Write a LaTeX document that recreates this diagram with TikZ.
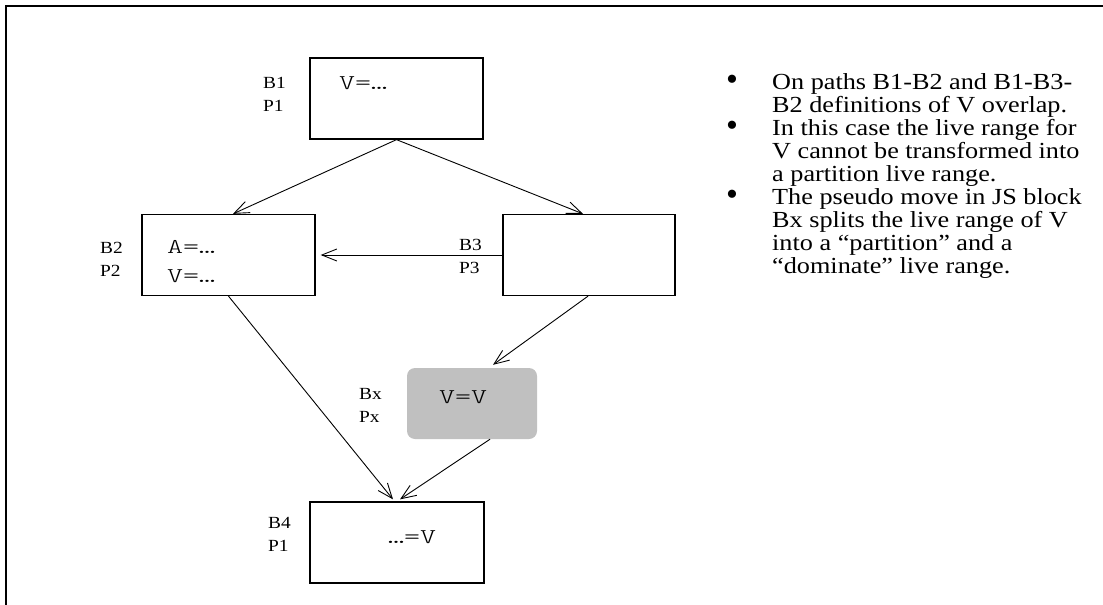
\documentclass[tikz,border=0pt]{standalone}
\usepackage{fontspec}
\setmainfont{Liberation Serif}[FakeStretch=1.14]
\newfontfamily\dotfont{Liberation Serif}
\newfontfamily\codefont{lmmonolt10-regular}[Extension=.otf, FakeStretch=1.45]
\usetikzlibrary{arrows.meta}
\definecolor{jsgray}{HTML}{C0C0C0}

\tikzset{
  block/.style={draw, line width=1.3pt, minimum height=81pt, inner sep=0pt},
  jsblock/.style={fill=jsgray, rounded corners=8pt, minimum width=130pt, minimum height=71pt, inner sep=0pt},
  code/.style={font=\codefont\fontsize{21}{28}\selectfont, inner sep=0pt, anchor=base west},
  tag/.style={font=\fontsize{17}{23}\selectfont, align=left, inner sep=0pt, anchor=base west},
  note/.style={font=\fontsize{23}{23}\selectfont, align=left, inner sep=0pt, anchor=base west},
  dot/.style={font=\dotfont\fontsize{34}{34}\selectfont, inner sep=0pt, anchor=center},
  flow/.style={line width=0.9pt, -{Straight Barb[length=15pt, width=12pt, line width=0.9pt]}}
}

\begin{document}
\begin{tikzpicture}[x=1pt, y=-1pt]
  \useasboundingbox (0,0) rectangle (1103,605);

  % open frame: top and left edges only
  \draw[line width=2pt] (6,605) -- (6,6) -- (1103,6);

  % basic blocks
  \node[block, minimum width=173pt] (b1) at (396.5,98.5) {};
  \node[block, minimum width=173pt] (b2) at (228.5,255) {};
  \node[block, minimum width=172pt] (b3) at (589,255) {};
  \node[jsblock] (bx) at (472,403.5) {};
  \node[block, minimum width=174pt] (b4) at (397,542.5) {};

  % block contents
  \node[code] (c1) at (339,89) {V=…};
  \node[code] (c2a) at (167,253) {A=…};
  \node[code] (c2b) at (167,282) {V=…};
  \node[code] (cx) at (439,403) {V=V};
  \node[code] (c4) at (388,543) {…=V};

  % block / partition tags (anchored on the second line)
  \node[tag] (t1) at (263,111) {B1\\P1};
  \node[tag] (t2) at (100,276) {B2\\P2};
  \node[tag] (t3) at (459,273) {B3\\P3};
  \node[tag] (tx) at (359,422) {Bx\\Px};
  \node[tag] (t4) at (268,551) {B4\\P1};

  % control flow edges
  \draw[flow] (b1.south) -- ([xshift=4.5pt]b2.north);
  \draw[flow] (b1.south) -- ([xshift=-6pt]b3.north);
  \draw[flow] (b3.west) -- ([xshift=5pt]b2.east);
  \draw[flow] ([xshift=-1pt]b3.south) -- ([xshift=21pt,yshift=3pt]bx.north);
  \draw[flow] (b2.south) -- ([xshift=-4pt,yshift=2pt]b4.north);
  \draw[flow] ([xshift=18pt]bx.south) -- ([xshift=3pt,yshift=2pt]b4.north);

  % explanation (each note anchored on its last line)
  \node[dot] (d1) at (732,83) {•};
  \node[note] (n1) at (772,112) {On paths B1-B2 and B1-B3-\\B2 definitions of V overlap.};
  \node[dot] (d2) at (732,129) {•};
  \node[note] (n2) at (772,181) {In this case the live range for\\V cannot be transformed into\\a partition live range.};
  \node[dot] (d3) at (732,198) {•};
  \node[note] (n3) at (772,273) {The pseudo move in JS block\\Bx splits the live range of V\\into a “partition” and a\\“dominate” live range.};
\end{tikzpicture}
\end{document}
